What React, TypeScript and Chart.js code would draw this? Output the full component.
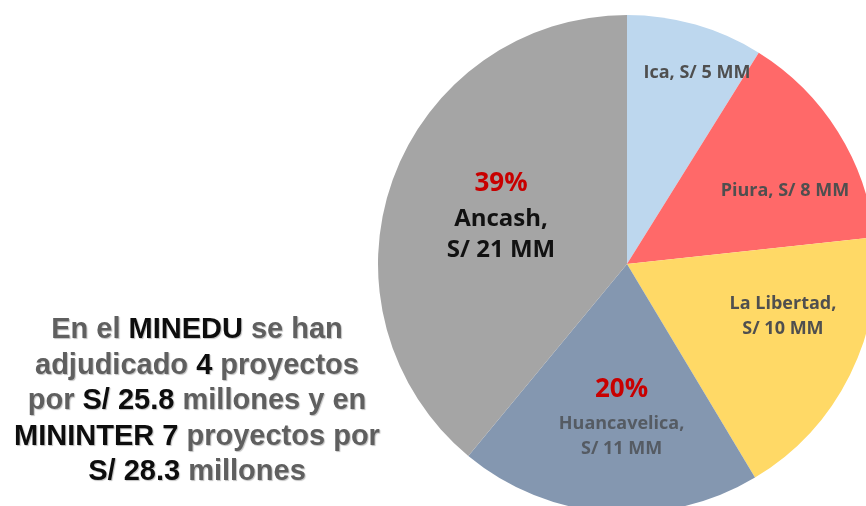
import React, { useEffect, useRef } from "react";
import { Chart, registerables } from "chart.js";

Chart.register(...registerables);

const regions = ["Ica", "Piura", "La Libertad", "Huancavelica", "Ancash"];
const amounts = [4.8, 7.8, 9.8, 10.6, 21.1];
const sliceColors = ["#BDD7EE", "#FF6969", "#FFD966", "#8497B0", "#A5A5A5"];
const splitLabel = [false, false, true, true, true];
const showPercent = [false, false, false, true, true];
const labelRadius = [0.824, 0.702, 0.658, 0.616, 0.543];
const labelAngleShift = [3.96, 6.7, -8.6, -2.3, 1.45];
const labelFontSize = [18, 18, 18, 18, 24];
const labelColor = ["#4f4f4f", "#4f4f4f", "#4f4f4f", "#555b63", "#111111"];
const percentColor = "#C80000";
const percentFontSize = 26;

const labelPlugin = {
  id: "sliceLabels",
  afterDatasetsDraw(chart: any) {
    const ctx = chart.ctx;
    const meta = chart.getDatasetMeta(0);
    const data = chart.data.datasets[0].data as number[];
    const total = data.reduce((a, b) => a + b, 0);
    meta.data.forEach((arc: any, i: number) => {
      const p = arc.getProps(["x", "y", "startAngle", "endAngle", "outerRadius"], true);
      const theta = (p.startAngle + p.endAngle) / 2 + (labelAngleShift[i] * Math.PI) / 180;
      const d = p.outerRadius * labelRadius[i];
      const ax = p.x + d * Math.cos(theta);
      const ay = p.y + d * Math.sin(theta);
      const fs = labelFontSize[i];
      const value = `S/ ${Math.round(data[i])} MM`;
      const lines: { text: string; size: number; color: string; y: number }[] = [];
      let y = 0;
      if (showPercent[i]) {
        lines.push({ text: `${Math.round((data[i] / total) * 100)}%`, size: percentFontSize, color: percentColor, y });
        y += 35;
      }
      if (splitLabel[i]) {
        lines.push({ text: `${regions[i]},`, size: fs, color: labelColor[i], y });
        y += fs + 7;
        lines.push({ text: value, size: fs, color: labelColor[i], y });
      } else {
        lines.push({ text: `${regions[i]}, ${value}`, size: fs, color: labelColor[i], y });
      }
      const shift = ay - y / 2 + 2;
      ctx.save();
      ctx.textAlign = "center";
      ctx.textBaseline = "middle";
      lines.forEach((ln) => {
        ctx.font = `bold ${ln.size}px "Open Sans"`;
        ctx.fillStyle = ln.color;
        ctx.fillText(ln.text, ax, shift + ln.y);
      });
      ctx.restore();
    });
  },
};

export default function App() {
  const canvasRef = useRef<HTMLCanvasElement | null>(null);

  useEffect(() => {
    if (!canvasRef.current) return;
    const chart = new Chart(canvasRef.current, {
      type: "pie",
      data: {
        labels: regions,
        datasets: [
          {
            data: amounts,
            backgroundColor: sliceColors,
            borderWidth: 0,
          },
        ],
      },
      options: {
        responsive: false,
        animation: false,
        layout: { padding: 11 },
        plugins: {
          legend: { display: false },
          tooltip: { enabled: false },
        },
      },
      plugins: [labelPlugin],
    });
    return () => chart.destroy();
  }, []);

  const gray = { color: "#5f5f5f" };
  const dark = { color: "#0d0d0d" };

  return (
    <div
      style={{
        position: "fixed",
        left: 0,
        top: 0,
        width: 866,
        height: 506,
        overflow: "hidden",
        background: "#ffffff",
      }}
    >
      <canvas
        ref={canvasRef}
        width={520}
        height={520}
        style={{ position: "absolute", left: 367, top: 4, width: 520, height: 520 }}
      />
      <div
        style={{
          position: "absolute",
          left: 0,
          top: 311,
          width: 394,
          textAlign: "center",
          fontFamily: '"Liberation Sans", Arial, sans-serif',
          fontWeight: "bold",
          fontSize: 29,
          lineHeight: "35.5px",
          textShadow: "1px 1px 1px rgba(0,0,0,0.25)",
          whiteSpace: "nowrap",
        }}
      >
        <div>
          <span style={gray}>En el </span>
          <span style={dark}>MINEDU</span>
          <span style={gray}> se han</span>
        </div>
        <div>
          <span style={gray}>adjudicado </span>
          <span style={dark}>4</span>
          <span style={gray}> proyectos</span>
        </div>
        <div>
          <span style={gray}>por </span>
          <span style={dark}>S/ 25.8</span>
          <span style={gray}> millones y en</span>
        </div>
        <div>
          <span style={dark}>MININTER 7</span>
          <span style={gray}> proyectos por</span>
        </div>
        <div>
          <span style={dark}>S/ 28.3</span>
          <span style={gray}> millones</span>
        </div>
      </div>
    </div>
  );
}
